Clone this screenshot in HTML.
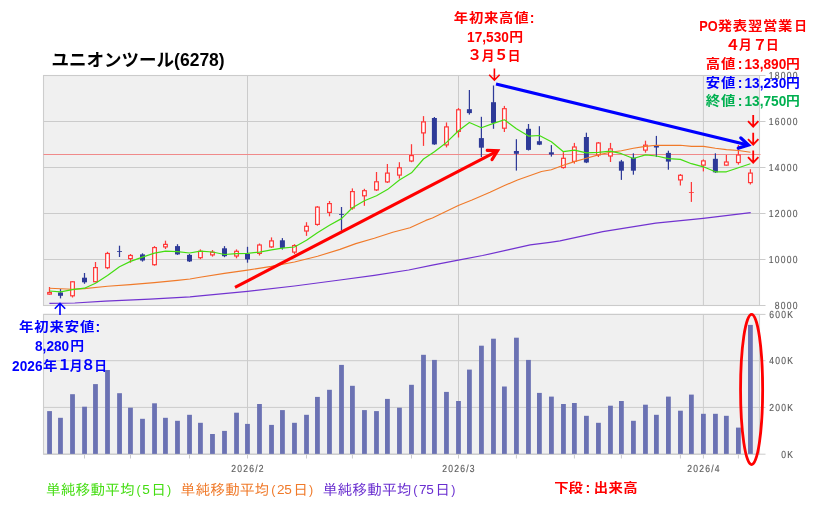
<!DOCTYPE html>
<html lang="ja">
<head>
<meta charset="utf-8">
<title>ユニオンツール(6278)</title>
<style>
html,body{margin:0;padding:0;background:#fff;}
body{width:833px;height:505px;overflow:hidden;}
svg{display:block;}
</style>
</head>
<body>
<svg width="833" height="505" viewBox="0 0 833 505">
<rect x="0" y="0" width="833" height="505" fill="#fff"/>
<rect x="43.5" y="75.5" width="716.0" height="230.0" fill="#f0f0f0" stroke="#cdcdcd" stroke-width="1.1"/>
<rect x="43.5" y="314.4" width="716.0" height="139.8" fill="#f0f0f0" stroke="#cdcdcd" stroke-width="1.1"/>
<line x1="43.5" y1="75.5" x2="765.5" y2="75.5" stroke="#cbcbcb"/>
<line x1="43.5" y1="121.5" x2="765.5" y2="121.5" stroke="#cbcbcb"/>
<line x1="43.5" y1="167.5" x2="765.5" y2="167.5" stroke="#cbcbcb"/>
<line x1="43.5" y1="213.5" x2="765.5" y2="213.5" stroke="#cbcbcb"/>
<line x1="43.5" y1="259.5" x2="765.5" y2="259.5" stroke="#cbcbcb"/>
<line x1="43.5" y1="305.5" x2="765.5" y2="305.5" stroke="#cbcbcb"/>
<line x1="43.5" y1="314.4" x2="765.5" y2="314.4" stroke="#cbcbcb"/>
<line x1="43.5" y1="360.7" x2="765.5" y2="360.7" stroke="#cbcbcb"/>
<line x1="43.5" y1="407.4" x2="765.5" y2="407.4" stroke="#cbcbcb"/>
<line x1="43.5" y1="454.2" x2="765.5" y2="454.2" stroke="#cbcbcb"/>
<line x1="247.5" y1="75.5" x2="247.5" y2="305.5" stroke="#cbcbcb"/>
<line x1="247.5" y1="314.4" x2="247.5" y2="458.5" stroke="#cbcbcb"/>
<line x1="458.5" y1="75.5" x2="458.5" y2="305.5" stroke="#cbcbcb"/>
<line x1="458.5" y1="314.4" x2="458.5" y2="458.5" stroke="#cbcbcb"/>
<line x1="703.4" y1="75.5" x2="703.4" y2="305.5" stroke="#cbcbcb"/>
<line x1="703.4" y1="314.4" x2="703.4" y2="458.5" stroke="#cbcbcb"/>
<line x1="84.5" y1="454.2" x2="84.5" y2="458.5" stroke="#cbcbcb"/>
<line x1="130.5" y1="454.2" x2="130.5" y2="458.5" stroke="#cbcbcb"/>
<line x1="189.5" y1="454.2" x2="189.5" y2="458.5" stroke="#cbcbcb"/>
<line x1="306.5" y1="454.2" x2="306.5" y2="458.5" stroke="#cbcbcb"/>
<line x1="352.4" y1="454.2" x2="352.4" y2="458.5" stroke="#cbcbcb"/>
<line x1="411.5" y1="454.2" x2="411.5" y2="458.5" stroke="#cbcbcb"/>
<line x1="516.4" y1="454.2" x2="516.4" y2="458.5" stroke="#cbcbcb"/>
<line x1="574.4" y1="454.2" x2="574.4" y2="458.5" stroke="#cbcbcb"/>
<line x1="621.4" y1="454.2" x2="621.4" y2="458.5" stroke="#cbcbcb"/>
<line x1="680.4" y1="454.2" x2="680.4" y2="458.5" stroke="#cbcbcb"/>
<line x1="738.4" y1="454.2" x2="738.4" y2="458.5" stroke="#cbcbcb"/>
<line x1="43.5" y1="154.5" x2="760.5" y2="154.5" stroke="#f08a8a" stroke-width="1"/>
<rect x="47.15" y="411.1" width="4.8" height="42.8" fill="#6b72b3"/>
<rect x="58.08" y="417.8" width="4.8" height="36.1" fill="#6b72b3"/>
<rect x="70.11" y="394.2" width="4.8" height="59.7" fill="#6b72b3"/>
<rect x="82.14" y="406.7" width="4.8" height="47.2" fill="#6b72b3"/>
<rect x="93.07" y="384.1" width="4.8" height="69.8" fill="#6b72b3"/>
<rect x="105.10" y="370.0" width="4.8" height="83.9" fill="#6b72b3"/>
<rect x="117.13" y="393.2" width="4.8" height="60.7" fill="#6b72b3"/>
<rect x="128.06" y="407.7" width="4.8" height="46.2" fill="#6b72b3"/>
<rect x="140.09" y="418.8" width="4.8" height="35.1" fill="#6b72b3"/>
<rect x="152.12" y="403.3" width="4.8" height="50.6" fill="#6b72b3"/>
<rect x="163.05" y="417.8" width="4.8" height="36.1" fill="#6b72b3"/>
<rect x="175.08" y="420.8" width="4.8" height="33.1" fill="#6b72b3"/>
<rect x="187.11" y="414.8" width="4.8" height="39.1" fill="#6b72b3"/>
<rect x="198.04" y="422.8" width="4.8" height="31.1" fill="#6b72b3"/>
<rect x="210.07" y="434.0" width="4.8" height="19.9" fill="#6b72b3"/>
<rect x="222.09" y="430.9" width="4.8" height="23.0" fill="#6b72b3"/>
<rect x="234.12" y="412.7" width="4.8" height="41.2" fill="#6b72b3"/>
<rect x="245.06" y="423.9" width="4.8" height="30.0" fill="#6b72b3"/>
<rect x="257.08" y="404.0" width="4.8" height="49.9" fill="#6b72b3"/>
<rect x="269.11" y="424.9" width="4.8" height="29.0" fill="#6b72b3"/>
<rect x="280.04" y="410.1" width="4.8" height="43.8" fill="#6b72b3"/>
<rect x="292.07" y="422.8" width="4.8" height="31.1" fill="#6b72b3"/>
<rect x="304.10" y="414.8" width="4.8" height="39.1" fill="#6b72b3"/>
<rect x="315.03" y="396.9" width="4.8" height="57.0" fill="#6b72b3"/>
<rect x="327.06" y="389.8" width="4.8" height="64.1" fill="#6b72b3"/>
<rect x="339.09" y="364.9" width="4.8" height="89.0" fill="#6b72b3"/>
<rect x="350.02" y="385.8" width="4.8" height="68.1" fill="#6b72b3"/>
<rect x="362.05" y="410.1" width="4.8" height="43.8" fill="#6b72b3"/>
<rect x="374.08" y="411.1" width="4.8" height="42.8" fill="#6b72b3"/>
<rect x="385.01" y="398.9" width="4.8" height="55.0" fill="#6b72b3"/>
<rect x="397.04" y="407.7" width="4.8" height="46.2" fill="#6b72b3"/>
<rect x="409.07" y="384.8" width="4.8" height="69.1" fill="#6b72b3"/>
<rect x="421.09" y="354.8" width="4.8" height="99.1" fill="#6b72b3"/>
<rect x="432.03" y="359.9" width="4.8" height="94.0" fill="#6b72b3"/>
<rect x="444.05" y="391.9" width="4.8" height="62.0" fill="#6b72b3"/>
<rect x="456.08" y="401.0" width="4.8" height="52.9" fill="#6b72b3"/>
<rect x="467.02" y="369.6" width="4.8" height="84.3" fill="#6b72b3"/>
<rect x="479.04" y="345.7" width="4.8" height="108.2" fill="#6b72b3"/>
<rect x="491.07" y="338.7" width="4.8" height="115.2" fill="#6b72b3"/>
<rect x="502.00" y="386.5" width="4.8" height="67.4" fill="#6b72b3"/>
<rect x="514.03" y="337.7" width="4.8" height="116.2" fill="#6b72b3"/>
<rect x="526.06" y="359.9" width="4.8" height="94.0" fill="#6b72b3"/>
<rect x="536.99" y="392.9" width="4.8" height="61.0" fill="#6b72b3"/>
<rect x="549.02" y="396.6" width="4.8" height="57.3" fill="#6b72b3"/>
<rect x="561.05" y="404.0" width="4.8" height="49.9" fill="#6b72b3"/>
<rect x="571.98" y="403.0" width="4.8" height="50.9" fill="#6b72b3"/>
<rect x="584.01" y="415.8" width="4.8" height="38.1" fill="#6b72b3"/>
<rect x="596.04" y="422.8" width="4.8" height="31.1" fill="#6b72b3"/>
<rect x="608.06" y="405.7" width="4.8" height="48.2" fill="#6b72b3"/>
<rect x="619.00" y="401.0" width="4.8" height="52.9" fill="#6b72b3"/>
<rect x="631.03" y="420.8" width="4.8" height="33.1" fill="#6b72b3"/>
<rect x="643.05" y="404.7" width="4.8" height="49.2" fill="#6b72b3"/>
<rect x="653.99" y="414.8" width="4.8" height="39.1" fill="#6b72b3"/>
<rect x="666.01" y="396.6" width="4.8" height="57.3" fill="#6b72b3"/>
<rect x="678.04" y="410.7" width="4.8" height="43.2" fill="#6b72b3"/>
<rect x="688.98" y="394.6" width="4.8" height="59.3" fill="#6b72b3"/>
<rect x="701.00" y="413.8" width="4.8" height="40.1" fill="#6b72b3"/>
<rect x="713.03" y="413.8" width="4.8" height="40.1" fill="#6b72b3"/>
<rect x="723.96" y="415.8" width="4.8" height="38.1" fill="#6b72b3"/>
<rect x="735.99" y="427.6" width="4.8" height="26.3" fill="#6b72b3"/>
<rect x="748.02" y="324.9" width="4.8" height="129.0" fill="#6b72b3"/>
<line x1="49.5" y1="287.0" x2="49.5" y2="294.7" stroke="#ff3838" stroke-width="1.25"/>
<rect x="47.70" y="292.5" width="3.7" height="1.6" fill="#fff" stroke="#ff3838" stroke-width="1.2"/>
<line x1="60.5" y1="289.0" x2="60.5" y2="298.4" stroke="#2e3a98" stroke-width="1.25"/>
<rect x="58.0" y="292.5" width="5" height="3.3" fill="#2e3a98"/>
<line x1="72.5" y1="281.2" x2="72.5" y2="297.5" stroke="#ff3838" stroke-width="1.25"/>
<rect x="70.66" y="281.8" width="3.7" height="14.0" fill="#fff" stroke="#ff3838" stroke-width="1.2"/>
<line x1="84.5" y1="273.0" x2="84.5" y2="283.8" stroke="#2e3a98" stroke-width="1.25"/>
<rect x="82.0" y="277.7" width="5" height="4.6" fill="#2e3a98"/>
<line x1="95.5" y1="262.0" x2="95.5" y2="282.3" stroke="#ff3838" stroke-width="1.25"/>
<rect x="93.62" y="267.6" width="3.7" height="14.1" fill="#fff" stroke="#ff3838" stroke-width="1.2"/>
<line x1="107.5" y1="251.8" x2="107.5" y2="269.2" stroke="#ff3838" stroke-width="1.25"/>
<rect x="105.65" y="253.5" width="3.7" height="14.2" fill="#fff" stroke="#ff3838" stroke-width="1.2"/>
<line x1="119.5" y1="245.7" x2="119.5" y2="257.0" stroke="#2e3a98" stroke-width="1.25"/>
<rect x="117.0" y="251.2" width="5" height="0.8" fill="#2e3a98"/>
<line x1="130.5" y1="254.0" x2="130.5" y2="262.7" stroke="#ff3838" stroke-width="1.25"/>
<rect x="128.61" y="255.5" width="3.7" height="3.1" fill="#fff" stroke="#ff3838" stroke-width="1.2"/>
<line x1="142.5" y1="253.3" x2="142.5" y2="261.6" stroke="#2e3a98" stroke-width="1.25"/>
<rect x="140.0" y="254.4" width="5" height="6.1" fill="#2e3a98"/>
<line x1="154.5" y1="246.1" x2="154.5" y2="265.7" stroke="#ff3838" stroke-width="1.25"/>
<rect x="152.67" y="247.6" width="3.7" height="17.1" fill="#fff" stroke="#ff3838" stroke-width="1.2"/>
<line x1="165.5" y1="240.7" x2="165.5" y2="249.0" stroke="#ff3838" stroke-width="1.25"/>
<rect x="163.60" y="244.4" width="3.7" height="2.5" fill="#fff" stroke="#ff3838" stroke-width="1.2"/>
<line x1="177.5" y1="244.2" x2="177.5" y2="254.9" stroke="#2e3a98" stroke-width="1.25"/>
<rect x="175.0" y="246.1" width="5" height="8.3" fill="#2e3a98"/>
<line x1="189.5" y1="254.0" x2="189.5" y2="262.0" stroke="#2e3a98" stroke-width="1.25"/>
<rect x="187.0" y="254.9" width="5" height="6.5" fill="#2e3a98"/>
<line x1="200.4" y1="249.4" x2="200.4" y2="259.2" stroke="#ff3838" stroke-width="1.25"/>
<rect x="198.59" y="251.3" width="3.7" height="6.4" fill="#fff" stroke="#ff3838" stroke-width="1.2"/>
<line x1="212.5" y1="250.0" x2="212.5" y2="256.6" stroke="#ff3838" stroke-width="1.25"/>
<rect x="210.62" y="252.2" width="3.7" height="2.7" fill="#fff" stroke="#ff3838" stroke-width="1.2"/>
<line x1="224.5" y1="246.1" x2="224.5" y2="257.2" stroke="#2e3a98" stroke-width="1.25"/>
<rect x="222.0" y="248.3" width="5" height="7.9" fill="#2e3a98"/>
<line x1="236.5" y1="249.4" x2="236.5" y2="258.3" stroke="#ff3838" stroke-width="1.25"/>
<rect x="234.67" y="251.3" width="3.7" height="4.7" fill="#fff" stroke="#ff3838" stroke-width="1.2"/>
<line x1="247.5" y1="246.8" x2="247.5" y2="262.7" stroke="#2e3a98" stroke-width="1.25"/>
<rect x="245.0" y="254.0" width="5" height="5.4" fill="#2e3a98"/>
<line x1="259.5" y1="243.5" x2="259.5" y2="255.5" stroke="#ff3838" stroke-width="1.25"/>
<rect x="257.63" y="245.0" width="3.7" height="8.4" fill="#fff" stroke="#ff3838" stroke-width="1.2"/>
<line x1="271.5" y1="237.4" x2="271.5" y2="247.9" stroke="#ff3838" stroke-width="1.25"/>
<rect x="269.66" y="240.9" width="3.7" height="6.0" fill="#fff" stroke="#ff3838" stroke-width="1.2"/>
<line x1="282.4" y1="238.1" x2="282.4" y2="249.6" stroke="#2e3a98" stroke-width="1.25"/>
<rect x="279.9" y="240.3" width="5" height="7.6" fill="#2e3a98"/>
<line x1="294.5" y1="244.2" x2="294.5" y2="254.0" stroke="#ff3838" stroke-width="1.25"/>
<rect x="292.62" y="245.6" width="3.7" height="6.5" fill="#fff" stroke="#ff3838" stroke-width="1.2"/>
<line x1="306.5" y1="222.2" x2="306.5" y2="235.9" stroke="#ff3838" stroke-width="1.25"/>
<rect x="304.65" y="226.3" width="3.7" height="4.7" fill="#fff" stroke="#ff3838" stroke-width="1.2"/>
<line x1="317.4" y1="206.1" x2="317.4" y2="225.7" stroke="#ff3838" stroke-width="1.25"/>
<rect x="315.58" y="207.1" width="3.7" height="17.3" fill="#fff" stroke="#ff3838" stroke-width="1.2"/>
<line x1="329.5" y1="201.0" x2="329.5" y2="216.3" stroke="#ff3838" stroke-width="1.25"/>
<rect x="327.61" y="203.6" width="3.7" height="8.8" fill="#fff" stroke="#ff3838" stroke-width="1.2"/>
<line x1="341.5" y1="207.0" x2="341.5" y2="230.5" stroke="#2e3a98" stroke-width="1.25"/>
<rect x="339.0" y="214.2" width="5" height="0.8" fill="#2e3a98"/>
<line x1="352.4" y1="188.4" x2="352.4" y2="209.7" stroke="#ff3838" stroke-width="1.25"/>
<rect x="350.57" y="191.6" width="3.7" height="16.4" fill="#fff" stroke="#ff3838" stroke-width="1.2"/>
<line x1="364.4" y1="188.8" x2="364.4" y2="205.8" stroke="#ff3838" stroke-width="1.25"/>
<rect x="362.60" y="190.7" width="3.7" height="5.1" fill="#fff" stroke="#ff3838" stroke-width="1.2"/>
<line x1="376.5" y1="172.0" x2="376.5" y2="191.0" stroke="#ff3838" stroke-width="1.25"/>
<rect x="374.63" y="181.8" width="3.7" height="8.1" fill="#fff" stroke="#ff3838" stroke-width="1.2"/>
<line x1="387.4" y1="164.0" x2="387.4" y2="183.0" stroke="#ff3838" stroke-width="1.25"/>
<rect x="385.56" y="173.1" width="3.7" height="8.8" fill="#fff" stroke="#ff3838" stroke-width="1.2"/>
<line x1="399.4" y1="162.2" x2="399.4" y2="178.6" stroke="#ff3838" stroke-width="1.25"/>
<rect x="397.59" y="167.8" width="3.7" height="7.3" fill="#fff" stroke="#ff3838" stroke-width="1.2"/>
<line x1="411.5" y1="144.2" x2="411.5" y2="162.2" stroke="#ff3838" stroke-width="1.25"/>
<rect x="409.62" y="155.6" width="3.7" height="5.4" fill="#fff" stroke="#ff3838" stroke-width="1.2"/>
<line x1="423.5" y1="116.1" x2="423.5" y2="145.9" stroke="#ff3838" stroke-width="1.25"/>
<rect x="421.64" y="121.9" width="3.7" height="11.0" fill="#fff" stroke="#ff3838" stroke-width="1.2"/>
<line x1="434.4" y1="117.0" x2="434.4" y2="144.8" stroke="#2e3a98" stroke-width="1.25"/>
<rect x="431.9" y="118.0" width="5" height="26.4" fill="#2e3a98"/>
<line x1="446.5" y1="122.4" x2="446.5" y2="147.4" stroke="#ff3838" stroke-width="1.25"/>
<rect x="444.60" y="126.9" width="3.7" height="18.0" fill="#fff" stroke="#ff3838" stroke-width="1.2"/>
<line x1="458.5" y1="108.0" x2="458.5" y2="137.5" stroke="#ff3838" stroke-width="1.25"/>
<rect x="456.63" y="109.8" width="3.7" height="21.6" fill="#fff" stroke="#ff3838" stroke-width="1.2"/>
<line x1="469.4" y1="90.0" x2="469.4" y2="114.6" stroke="#2e3a98" stroke-width="1.25"/>
<rect x="466.9" y="109.2" width="5" height="3.9" fill="#2e3a98"/>
<line x1="481.4" y1="116.8" x2="481.4" y2="157.0" stroke="#2e3a98" stroke-width="1.25"/>
<rect x="478.9" y="138.1" width="5" height="9.6" fill="#2e3a98"/>
<line x1="493.5" y1="85.5" x2="493.5" y2="128.8" stroke="#2e3a98" stroke-width="1.25"/>
<rect x="491.0" y="102.2" width="5" height="20.7" fill="#2e3a98"/>
<line x1="504.4" y1="105.9" x2="504.4" y2="132.0" stroke="#ff3838" stroke-width="1.25"/>
<rect x="502.55" y="108.7" width="3.7" height="19.5" fill="#fff" stroke="#ff3838" stroke-width="1.2"/>
<line x1="516.4" y1="139.2" x2="516.4" y2="170.6" stroke="#2e3a98" stroke-width="1.25"/>
<rect x="513.9" y="151.0" width="5" height="2.8" fill="#2e3a98"/>
<line x1="528.5" y1="124.0" x2="528.5" y2="150.5" stroke="#2e3a98" stroke-width="1.25"/>
<rect x="526.0" y="128.8" width="5" height="21.1" fill="#2e3a98"/>
<line x1="539.4" y1="126.2" x2="539.4" y2="145.1" stroke="#2e3a98" stroke-width="1.25"/>
<rect x="536.9" y="141.2" width="5" height="3.5" fill="#2e3a98"/>
<line x1="551.4" y1="145.1" x2="551.4" y2="156.6" stroke="#2e3a98" stroke-width="1.25"/>
<rect x="548.9" y="152.3" width="5" height="2.2" fill="#2e3a98"/>
<line x1="563.4" y1="152.2" x2="563.4" y2="168.6" stroke="#ff3838" stroke-width="1.25"/>
<rect x="561.60" y="158.3" width="3.7" height="9.2" fill="#fff" stroke="#ff3838" stroke-width="1.2"/>
<line x1="574.4" y1="142.9" x2="574.4" y2="163.6" stroke="#ff3838" stroke-width="1.25"/>
<rect x="572.53" y="147.0" width="3.7" height="14.4" fill="#fff" stroke="#ff3838" stroke-width="1.2"/>
<line x1="586.4" y1="132.7" x2="586.4" y2="163.1" stroke="#2e3a98" stroke-width="1.25"/>
<rect x="583.9" y="137.0" width="5" height="25.5" fill="#2e3a98"/>
<line x1="598.4" y1="142.0" x2="598.4" y2="157.0" stroke="#ff3838" stroke-width="1.25"/>
<rect x="596.59" y="143.0" width="3.7" height="11.9" fill="#fff" stroke="#ff3838" stroke-width="1.2"/>
<line x1="610.5" y1="142.9" x2="610.5" y2="162.0" stroke="#ff3838" stroke-width="1.25"/>
<rect x="608.61" y="148.9" width="3.7" height="7.1" fill="#fff" stroke="#ff3838" stroke-width="1.2"/>
<line x1="621.4" y1="159.9" x2="621.4" y2="179.9" stroke="#2e3a98" stroke-width="1.25"/>
<rect x="618.9" y="161.4" width="5" height="9.3" fill="#2e3a98"/>
<line x1="633.4" y1="153.3" x2="633.4" y2="174.7" stroke="#2e3a98" stroke-width="1.25"/>
<rect x="630.9" y="157.7" width="5" height="13.0" fill="#2e3a98"/>
<line x1="645.5" y1="140.7" x2="645.5" y2="152.7" stroke="#ff3838" stroke-width="1.25"/>
<rect x="643.60" y="145.2" width="3.7" height="4.9" fill="#fff" stroke="#ff3838" stroke-width="1.2"/>
<line x1="656.4" y1="135.9" x2="656.4" y2="157.0" stroke="#2e3a98" stroke-width="1.25"/>
<rect x="653.9" y="145.3" width="5" height="2.2" fill="#2e3a98"/>
<line x1="668.4" y1="150.7" x2="668.4" y2="169.7" stroke="#2e3a98" stroke-width="1.25"/>
<rect x="665.9" y="152.9" width="5" height="8.7" fill="#2e3a98"/>
<line x1="680.4" y1="174.0" x2="680.4" y2="185.5" stroke="#ff3838" stroke-width="1.25"/>
<rect x="678.59" y="175.3" width="3.7" height="4.6" fill="#fff" stroke="#ff3838" stroke-width="1.2"/>
<line x1="691.4" y1="182.0" x2="691.4" y2="201.9" stroke="#ff3838" stroke-width="1.25"/>
<rect x="688.9" y="192.1" width="5" height="0.8" fill="#ff3838"/>
<line x1="703.4" y1="159.4" x2="703.4" y2="171.4" stroke="#ff3838" stroke-width="1.25"/>
<rect x="701.55" y="160.9" width="3.7" height="4.2" fill="#fff" stroke="#ff3838" stroke-width="1.2"/>
<line x1="715.4" y1="153.3" x2="715.4" y2="172.9" stroke="#2e3a98" stroke-width="1.25"/>
<rect x="712.9" y="158.8" width="5" height="13.5" fill="#2e3a98"/>
<line x1="726.4" y1="154.9" x2="726.4" y2="165.7" stroke="#ff3838" stroke-width="1.25"/>
<rect x="724.51" y="162.0" width="3.7" height="3.1" fill="#fff" stroke="#ff3838" stroke-width="1.2"/>
<line x1="738.4" y1="145.0" x2="738.4" y2="164.6" stroke="#ff3838" stroke-width="1.25"/>
<rect x="736.54" y="155.0" width="3.7" height="7.5" fill="#fff" stroke="#ff3838" stroke-width="1.2"/>
<line x1="750.4" y1="169.2" x2="750.4" y2="184.5" stroke="#ff3838" stroke-width="1.25"/>
<rect x="748.57" y="173.1" width="3.7" height="9.5" fill="#fff" stroke="#ff3838" stroke-width="1.2"/>
<polyline points="49.4,303.4 74.8,303.0 105.3,301.2 150.0,299.2 190.0,296.9 200.0,295.8 247.5,291.4 294.5,286.0 340.0,280.0 374.3,275.3 408.7,270.0 432.4,265.2 458.3,260.2 482.6,255.5 509.0,249.7 530.2,244.9 550.0,242.3 560.0,240.9 602.8,231.7 655.7,223.2 703.2,218.3 750.7,212.7" fill="none" stroke="#7233d0" stroke-width="1.25" stroke-linejoin="round"/>
<polyline points="49.4,288.2 72.4,289.2 84.4,288.6 107.5,286.3 130.3,284.6 154.3,282.6 177.4,280.4 190.0,279.0 200.0,277.2 224.4,273.4 247.5,270.1 271.4,266.4 294.5,262.0 317.6,256.2 340.0,249.4 355.8,243.6 374.3,238.3 392.8,232.2 410.0,227.7 425.8,220.4 432.4,218.0 458.3,205.5 472.0,200.0 490.0,192.3 504.5,185.5 517.5,180.0 541.5,171.5 551.3,169.7 563.3,165.3 574.4,161.6 586.4,158.3 598.3,154.9 610.3,152.2 621.4,150.7 633.4,148.3 645.4,146.4 656.5,145.3 668.4,145.3 680.4,145.3 691.5,146.4 703.5,146.4 715.4,148.3 726.5,149.6 738.5,150.5 750.5,152.2" fill="none" stroke="#f07a2a" stroke-width="1.15" stroke-linejoin="round"/>
<polyline points="49.5,291.0 60.5,291.9 72.5,289.7 84.5,288.2 95.5,283.2 107.5,275.4 119.5,266.7 130.5,261.4 142.5,257.1 154.5,253.1 165.5,251.2 177.5,251.7 189.5,253.0 200.4,251.1 212.5,252.0 224.5,254.5 236.5,253.7 247.5,253.3 259.5,252.1 271.5,249.8 282.4,248.1 294.5,247.0 306.5,240.3 317.4,232.7 329.5,225.2 341.5,218.6 352.4,207.8 364.4,200.7 376.5,195.7 387.4,189.6 399.4,180.0 411.5,172.8 423.5,159.0 434.4,151.7 446.5,142.4 458.5,130.8 469.4,122.5 481.4,127.7 493.5,123.4 504.4,119.8 516.4,128.7 528.5,136.1 539.4,135.5 551.4,141.8 563.4,151.7 574.4,150.2 586.4,152.8 598.4,152.3 610.5,151.1 621.4,153.7 633.4,158.5 645.5,154.9 656.4,156.0 668.4,158.6 680.4,159.4 691.4,163.7 703.4,166.8 715.4,171.8 726.4,171.8 738.4,167.7 750.4,163.8" fill="none" stroke="#44dd11" stroke-width="1.2" stroke-linejoin="round"/>
<line x1="235.0" y1="287.3" x2="497.2" y2="151.1" stroke="#ff0000" stroke-width="3.1"/><path d="M492.0 159.7 L497.6 150.8 L487.2 150.4" fill="none" stroke="#ff0000" stroke-width="3.1" stroke-linejoin="miter" stroke-miterlimit="10" stroke-linecap="round"/>
<line x1="496.0" y1="84.0" x2="747.9" y2="145.0" stroke="#0000ff" stroke-width="3.3"/><path d="M738.3 148.1 L748.4 145.1 L740.8 137.9" fill="none" stroke="#0000ff" stroke-width="3.3" stroke-linejoin="miter" stroke-miterlimit="10" stroke-linecap="round"/>
<path d="M494.4 68.6 L494.4 80.2 M489.2 74.7 L494.4 80.2 L499.6 74.7" fill="none" stroke="#ff0000" stroke-width="1.6" stroke-linejoin="miter"/>
<path d="M753.2 114.9 L753.2 126.7 M748.0 121.2 L753.2 126.7 L758.4 121.2" fill="none" stroke="#ff0000" stroke-width="1.8" stroke-linejoin="miter"/>
<path d="M753.2 132.7 L753.2 144.6 M748.0 139.1 L753.2 144.6 L758.4 139.1" fill="none" stroke="#ff0000" stroke-width="1.8" stroke-linejoin="miter"/>
<path d="M753.2 150.5 L753.2 162.7 M748.0 157.2 L753.2 162.7 L758.4 157.2" fill="none" stroke="#ff0000" stroke-width="1.8" stroke-linejoin="miter"/>
<path d="M60.0 315.0 L60.0 303.3 M54.8 308.8 L60.0 303.3 L65.2 308.8" fill="none" stroke="#0000ff" stroke-width="1.6" stroke-linejoin="miter"/>
<ellipse cx="751.6" cy="389.5" rx="11.05" ry="75.1" fill="none" stroke="#ff0000" stroke-width="2.8"/>
<text x="950.8" y="79.20" text-anchor="end" font-family="'Liberation Sans', sans-serif" font-size="10.2" letter-spacing="1.47" fill="#5c5c5c" stroke="#5c5c5c" stroke-width="0.15" text-rendering="geometricPrecision" transform="scale(0.84,1.00)">18000</text>
<text x="950.8" y="125.20" text-anchor="end" font-family="'Liberation Sans', sans-serif" font-size="10.2" letter-spacing="1.47" fill="#5c5c5c" stroke="#5c5c5c" stroke-width="0.15" text-rendering="geometricPrecision" transform="scale(0.84,1.00)">16000</text>
<text x="950.8" y="171.20" text-anchor="end" font-family="'Liberation Sans', sans-serif" font-size="10.2" letter-spacing="1.47" fill="#5c5c5c" stroke="#5c5c5c" stroke-width="0.15" text-rendering="geometricPrecision" transform="scale(0.84,1.00)">14000</text>
<text x="950.8" y="217.20" text-anchor="end" font-family="'Liberation Sans', sans-serif" font-size="10.2" letter-spacing="1.47" fill="#5c5c5c" stroke="#5c5c5c" stroke-width="0.15" text-rendering="geometricPrecision" transform="scale(0.84,1.00)">12000</text>
<text x="950.8" y="263.20" text-anchor="end" font-family="'Liberation Sans', sans-serif" font-size="10.2" letter-spacing="1.47" fill="#5c5c5c" stroke="#5c5c5c" stroke-width="0.15" text-rendering="geometricPrecision" transform="scale(0.84,1.00)">10000</text>
<text x="950.8" y="309.20" text-anchor="end" font-family="'Liberation Sans', sans-serif" font-size="10.2" letter-spacing="1.47" fill="#5c5c5c" stroke="#5c5c5c" stroke-width="0.15" text-rendering="geometricPrecision" transform="scale(0.84,1.00)">8000</text>
<text x="945.4" y="318.10" text-anchor="end" font-family="'Liberation Sans', sans-serif" font-size="10.2" letter-spacing="1.47" fill="#5c5c5c" stroke="#5c5c5c" stroke-width="0.15" text-rendering="geometricPrecision" transform="scale(0.84,1.00)">600K</text>
<text x="945.4" y="364.40" text-anchor="end" font-family="'Liberation Sans', sans-serif" font-size="10.2" letter-spacing="1.47" fill="#5c5c5c" stroke="#5c5c5c" stroke-width="0.15" text-rendering="geometricPrecision" transform="scale(0.84,1.00)">400K</text>
<text x="945.4" y="411.10" text-anchor="end" font-family="'Liberation Sans', sans-serif" font-size="10.2" letter-spacing="1.47" fill="#5c5c5c" stroke="#5c5c5c" stroke-width="0.15" text-rendering="geometricPrecision" transform="scale(0.84,1.00)">200K</text>
<text x="945.4" y="457.90" text-anchor="end" font-family="'Liberation Sans', sans-serif" font-size="10.2" letter-spacing="1.47" fill="#5c5c5c" stroke="#5c5c5c" stroke-width="0.15" text-rendering="geometricPrecision" transform="scale(0.84,1.00)">0K</text>
<text x="295.3" y="471.90" text-anchor="middle" font-family="'Liberation Sans', sans-serif" font-size="10.2" letter-spacing="1.47" fill="#5c5c5c" stroke="#5c5c5c" stroke-width="0.15" text-rendering="geometricPrecision" transform="scale(0.84,1.00)">2026/2</text>
<text x="546.5" y="471.90" text-anchor="middle" font-family="'Liberation Sans', sans-serif" font-size="10.2" letter-spacing="1.47" fill="#5c5c5c" stroke="#5c5c5c" stroke-width="0.15" text-rendering="geometricPrecision" transform="scale(0.84,1.00)">2026/3</text>
<text x="838.1" y="471.90" text-anchor="middle" font-family="'Liberation Sans', sans-serif" font-size="10.2" letter-spacing="1.47" fill="#5c5c5c" stroke="#5c5c5c" stroke-width="0.15" text-rendering="geometricPrecision" transform="scale(0.84,1.00)">2026/4</text>
<text x="51.6" y="66.1" font-family="'Liberation Sans', 'Noto Sans CJK JP', sans-serif" font-weight="bold" font-size="17.5" fill="#000">ユニオンツール(6278)</text>
<g fill="#ff0000" font-family="'Liberation Sans', 'Noto Sans CJK JP', sans-serif" font-weight="bold" text-anchor="middle"><text transform="scale(1.130,1)" x="407.96 421.33 434.69 448.05 461.42" y="22.30" font-size="12.70">年初来高値</text><text transform="scale(1.000,1)" x="532.20" y="22.90" font-size="14.20">:</text></g>
<g fill="#ff0000" font-family="'Liberation Sans', 'Noto Sans CJK JP', sans-serif" font-weight="bold" text-anchor="middle"><text transform="scale(0.977,1)" x="499.49" y="42.00" font-size="14.00">17,530</text><text transform="scale(1.090,1)" x="473.49" y="41.00" font-size="12.70">円</text></g>
<g fill="#ff0000" font-family="'Liberation Sans', 'Noto Sans CJK JP', sans-serif" font-weight="bold" text-anchor="middle"><text transform="scale(1.080,1)" x="439.63" y="60.30" font-size="13.80">３</text><text transform="scale(1.000,1)" x="488.00" y="59.70" font-size="12.70">月</text><text transform="scale(1.080,1)" x="463.98" y="60.30" font-size="13.80">５</text><text transform="scale(1.000,1)" x="514.00" y="59.70" font-size="12.70">日</text></g>
<g fill="#ff0000" font-family="'Liberation Sans', 'Noto Sans CJK JP', sans-serif" font-weight="bold" text-anchor="middle"><text transform="scale(0.900,1)" x="787.11" y="30.80" font-size="14.20">PO</text><text transform="scale(1.130,1)" x="641.50 654.87 668.23 681.59 694.96" y="29.80" font-size="12.70">発表翌営業</text><text transform="scale(1.000,1)" x="800.50" y="29.80" font-size="12.70">日</text></g>
<g fill="#ff0000" font-family="'Liberation Sans', 'Noto Sans CJK JP', sans-serif" font-weight="bold" text-anchor="middle"><text transform="scale(1.080,1)" x="678.33" y="49.80" font-size="13.80">４</text><text transform="scale(1.000,1)" x="745.30" y="49.20" font-size="12.70">月</text><text transform="scale(1.080,1)" x="703.70" y="49.80" font-size="13.80">７</text><text transform="scale(1.000,1)" x="772.40" y="49.20" font-size="12.70">日</text></g>
<g fill="#ff0000" font-family="'Liberation Sans', 'Noto Sans CJK JP', sans-serif" font-weight="bold" text-anchor="middle"><text transform="scale(1.130,1)" x="630.97 644.34" y="68.00" font-size="12.70">高値</text><text transform="scale(1.000,1)" x="740.20" y="68.60" font-size="14.20">:</text><text transform="scale(0.977,1)" x="783.42" y="69.00" font-size="14.00">13,890</text><text transform="scale(1.090,1)" x="727.52" y="68.00" font-size="12.70">円</text></g>
<g fill="#0000ff" font-family="'Liberation Sans', 'Noto Sans CJK JP', sans-serif" font-weight="bold" text-anchor="middle"><text transform="scale(1.130,1)" x="630.97 644.34" y="87.50" font-size="12.70">安値</text><text transform="scale(1.000,1)" x="740.20" y="88.10" font-size="14.20">:</text><text transform="scale(0.977,1)" x="783.42" y="88.50" font-size="14.00">13,230</text><text transform="scale(1.090,1)" x="727.52" y="87.50" font-size="12.70">円</text></g>
<g fill="#00b050" font-family="'Liberation Sans', 'Noto Sans CJK JP', sans-serif" font-weight="bold" text-anchor="middle"><text transform="scale(1.130,1)" x="630.97 644.34" y="105.50" font-size="12.70">終値</text><text transform="scale(1.000,1)" x="740.20" y="106.10" font-size="14.20">:</text><text transform="scale(0.977,1)" x="783.42" y="106.50" font-size="14.00">13,750</text><text transform="scale(1.090,1)" x="727.52" y="105.50" font-size="12.70">円</text></g>
<g fill="#0000ff" font-family="'Liberation Sans', 'Noto Sans CJK JP', sans-serif" font-weight="bold" text-anchor="middle"><text transform="scale(1.130,1)" x="23.10 36.64 50.18 63.63 77.17" y="331.30" font-size="12.70">年初来安値</text><text transform="scale(1.000,1)" x="97.90" y="331.90" font-size="14.20">:</text></g>
<g fill="#0000ff" font-family="'Liberation Sans', 'Noto Sans CJK JP', sans-serif" font-weight="bold" text-anchor="middle"><text transform="scale(0.977,1)" x="53.33" y="350.80" font-size="14.00">8,280</text><text transform="scale(1.090,1)" x="70.83" y="349.80" font-size="12.70">円</text></g>
<g fill="#0000ff" font-family="'Liberation Sans', 'Noto Sans CJK JP', sans-serif" font-weight="bold" text-anchor="middle"><text transform="scale(0.977,1)" x="27.94" y="370.70" font-size="14.00">2026</text><text transform="scale(1.130,1)" x="44.42" y="369.70" font-size="12.70">年</text><text transform="scale(1.080,1)" x="59.81" y="370.30" font-size="13.80">１</text><text transform="scale(1.000,1)" x="76.10" y="369.70" font-size="12.70">月</text><text transform="scale(1.080,1)" x="81.57" y="370.30" font-size="13.80">８</text><text transform="scale(1.000,1)" x="100.60" y="369.70" font-size="12.70">日</text></g>
<g fill="#ff0000" font-family="'Liberation Sans', 'Noto Sans CJK JP', sans-serif" font-weight="bold" text-anchor="middle"><text transform="scale(1.130,1)" x="496.90 509.47" y="492.30" font-size="12.70">下段</text><text transform="scale(1.000,1)" x="587.80" y="492.90" font-size="14.20">:</text><text transform="scale(1.130,1)" x="531.86 544.87 557.96" y="492.30" font-size="12.70">出来高</text></g>
<g fill="#44dd11" font-family="'Liberation Sans', 'IPAGothic', sans-serif" text-anchor="middle" font-size="14.8"><text x="53.30 68.10 82.90 97.70 112.50 127.30" y="495.00">単純移動平均</text><text x="138.60" y="494.00" font-size="12.5">(</text><text x="145.88" y="494.40" font-size="13.6" letter-spacing="-0.2">5</text><text x="158.55" y="495.00">日</text><text x="169.15" y="494.00" font-size="12.5">)</text></g>
<g fill="#f07a2a" font-family="'Liberation Sans', 'IPAGothic', sans-serif" text-anchor="middle" font-size="14.8"><text x="188.00 202.80 217.60 232.40 247.20 262.00" y="495.00">単純移動平均</text><text x="273.30" y="494.00" font-size="12.5">(</text><text x="284.25" y="494.40" font-size="13.6" letter-spacing="-0.2">25</text><text x="300.60" y="495.00">日</text><text x="311.20" y="494.00" font-size="12.5">)</text></g>
<g fill="#6a2fd0" font-family="'Liberation Sans', 'IPAGothic', sans-serif" text-anchor="middle" font-size="14.8"><text x="330.10 344.90 359.70 374.50 389.30 404.10" y="495.00">単純移動平均</text><text x="415.40" y="494.00" font-size="12.5">(</text><text x="426.35" y="494.40" font-size="13.6" letter-spacing="-0.2">75</text><text x="442.70" y="495.00">日</text><text x="453.30" y="494.00" font-size="12.5">)</text></g>
</svg>
</body>
</html>
